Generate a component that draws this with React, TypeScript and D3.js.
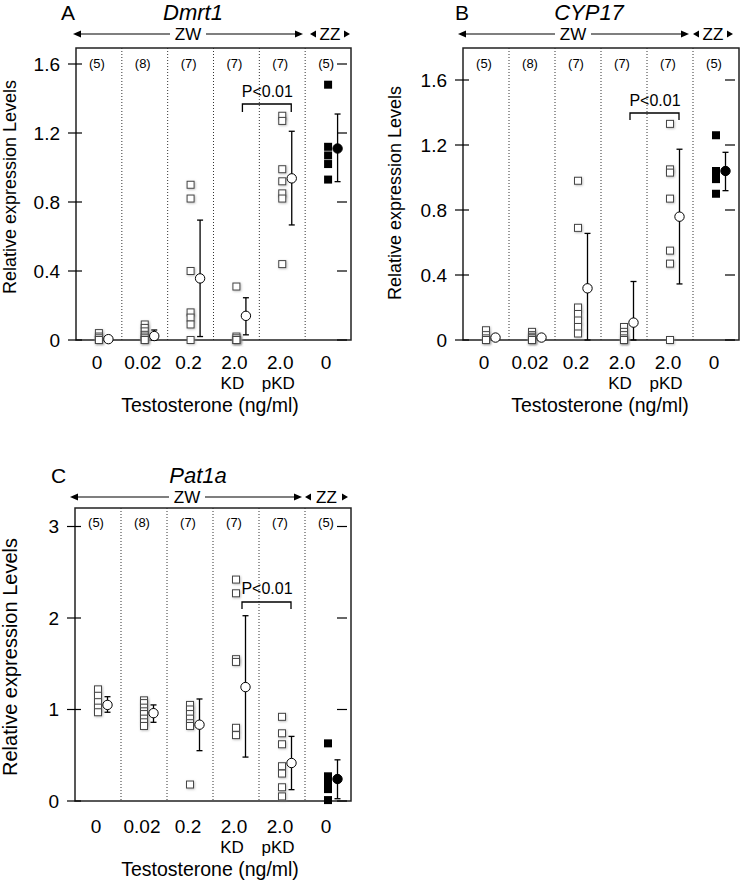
import React from "react";
import { scaleLinear, scaleBand } from "d3";

const categories = ["0", "0.02", "0.2", "2.0", "2.0", "0"];
const subLabels = ["", "", "", "KD", "pKD", ""];
const counts = ["(5)", "(8)", "(7)", "(7)", "(7)", "(5)"];

const dmrt1Points = [
  [0.04, 0.02, 0.01, 0, 0],
  [0.09, 0.07, 0.05, 0.03, 0.02, 0.01, 0, 0],
  [0.9, 0.82, 0.4, 0.16, 0.13, 0.09, 0.0],
  [0.31, 0.02, 0.01, 0, 0, 0, 0],
  [1.3, 1.27, 0.99, 0.92, 0.85, 0.82, 0.44],
  [1.48, 1.12, 1.07, 1.02, 0.93],
];
const dmrt1Mean = [0.005, 0.023, 0.357, 0.14, 0.937, 1.11];
const dmrt1Upper = [0.015, 0.058, 0.695, 0.245, 1.21, 1.31];
const dmrt1Lower = [0, 0, 0.02, 0.03, 0.667, 0.918];

const cyp17Points = [
  [0.06, 0.03, 0.01, 0, 0],
  [0.05, 0.03, 0.02, 0.01, 0.01, 0, 0, 0],
  [0.98, 0.69, 0.2, 0.16, 0.12, 0.08, 0.04],
  [0.08, 0.05, 0.03, 0.01, 0, 0, 0],
  [1.33, 1.05, 1.03, 0.87, 0.55, 0.47, 0],
  [1.26, 1.04, 1.02, 0.99, 0.9],
];
const cyp17Mean = [0.015, 0.015, 0.318, 0.107, 0.759, 1.04];
const cyp17Upper = [0.03, 0.03, 0.656, 0.36, 1.174, 1.155];
const cyp17Lower = [0, 0, 0, 0, 0.345, 0.919];

const pat1aPoints = [
  [1.22, 1.15, 1.08, 1.02, 0.97],
  [1.1, 1.07, 1.02, 0.98, 0.95, 0.9, 0.86, 0.82],
  [1.05, 1.0, 0.95, 0.9, 0.85, 0.82, 0.18],
  [2.42, 2.27, 1.55, 1.52, 0.8, 0.72],
  [0.92, 0.74, 0.62, 0.38, 0.3, 0.15, 0.05],
  [0.63, 0.27, 0.2, 0.13, 0.01],
];
const pat1aMean = [1.05, 0.96, 0.834, 1.245, 0.415, 0.24];
const pat1aUpper = [1.14, 1.05, 1.115, 2.025, 0.706, 0.45];
const pat1aLower = [0.97, 0.86, 0.55, 0.48, 0.124, 0.025];

const ticks16 = [0, 0.4, 0.8, 1.2, 1.6];
const ticks3 = [0, 1, 2, 3];

const FONT = "'Liberation Sans', Arial, Helvetica, sans-serif";

const Panel = ({ p }) => {
  const x = scaleBand()
    .domain(categories.map((_, i) => String(i)))
    .range([p.left, p.right]);
  const y = scaleLinear().domain(p.domain).range([p.bottom, p.topTick]);
  const cx = (i) => x(String(i)) + x.bandwidth() / 2;
  const sq = 7;
  const arrowL = p.arrow[0];
  const arrowR = p.arrow[1];
  const ay = p.arrowY;
  const zwHalf = 18;
  return (
    <g fontFamily={FONT}>
      {/* header */}
      <text x={p.letterX} y={p.titleY} fontSize={21}>{p.letter}</text>
      <text x={p.titleX} y={p.titleY} fontSize={22} fontStyle="italic" textAnchor="middle">{p.title}</text>
      <line x1={arrowL + 6} x2={p.zwX - zwHalf} y1={ay} y2={ay} stroke="#000" strokeWidth={1.2} />
      <line x1={p.zwX + zwHalf} x2={arrowR - 6} y1={ay} y2={ay} stroke="#000" strokeWidth={1.2} />
      <path d={`M${arrowL},${ay} l8,-3.5 l0,7 z`} fill="#000" />
      <path d={`M${arrowR},${ay} l-8,-3.5 l0,7 z`} fill="#000" />
      <text x={p.zwX} y={ay + 6} fontSize={17} textAnchor="middle">ZW</text>
      <path d={`M${p.zz[0]},${ay} l6,-3.5 l0,7 z`} fill="#000" />
      <path d={`M${p.zz[1]},${ay} l-6,-3.5 l0,7 z`} fill="#000" />
      <text x={(p.zz[0] + p.zz[1]) / 2} y={ay + 6} fontSize={17} textAnchor="middle">ZZ</text>

      {/* dividers */}
      {categories.slice(1).map((_, i) => (
        <line key={i} x1={x(String(i + 1))} x2={x(String(i + 1))} y1={p.top} y2={p.bottom}
          stroke="#333" strokeWidth={1} strokeDasharray="1,2" />
      ))}
      <rect x={p.left} y={p.top} width={p.right - p.left} height={p.bottom - p.top}
        fill="none" stroke="#222" strokeWidth={1.5} />

      {/* y ticks */}
      {p.ticks.map((t) => (
        <g key={t}>
          <line x1={p.left - 8} x2={p.left + 6} y1={y(t)} y2={y(t)} stroke="#000" strokeWidth={1.2} />
          <line x1={p.right - 14} x2={p.right - 4} y1={y(t)} y2={y(t)} stroke="#000" strokeWidth={1.2} />
          <text x={p.left - 16} y={y(t)} dy="0.35em" fontSize={19} textAnchor="end">{String(t)}</text>
        </g>
      ))}
      <text transform={`translate(${p.yTitle[0]},${p.yTitle[1]}) rotate(-90)`} fontSize={p.yTitleSize}
        textAnchor="middle">Relative expression Levels</text>

      {/* counts */}
      {counts.map((c, i) => (
        <text key={i} x={cx(i) - 2} y={p.countY} dy="0.35em" fontSize={13} textAnchor="middle">{c}</text>
      ))}

      {/* points */}
      {p.points.map((vals, i) =>
        vals.map((v, k) =>
          i === 5 ? (
            <rect key={`${i}-${k}`} x={cx(i) - 4} y={y(v) - 4} width={8} height={8} fill="#000" />
          ) : (
            <rect key={`${i}-${k}`} x={cx(i) - sq / 2} y={y(v) - sq / 2} width={sq} height={sq}
              fill="#fff" stroke="#444" strokeWidth={1} filter="url(#sqShadow)" />
          )
        )
      )}

      {/* means and error bars */}
      {p.mean.map((m, i) => {
        const mx = cx(i) + 9.5;
        return (
          <g key={i}>
            <line x1={mx} x2={mx} y1={y(p.upper[i])} y2={y(p.lower[i])} stroke="#000" strokeWidth={1.3} />
            <line x1={mx - 3} x2={mx + 3} y1={y(p.upper[i])} y2={y(p.upper[i])} stroke="#000" strokeWidth={1.3} />
            <line x1={mx - 3} x2={mx + 3} y1={y(p.lower[i])} y2={y(p.lower[i])} stroke="#000" strokeWidth={1.3} />
            <circle cx={mx} cy={y(m)} r={4.7} fill={i === 5 ? "#000" : "#fff"} stroke="#000" strokeWidth={1} />
          </g>
        );
      })}

      {/* significance bracket */}
      <path d={`M${cx(3) + 6},${p.bracket[1]} V${p.bracket[0]} H${cx(4) + 9} V${p.bracket[1]}`}
        fill="none" stroke="#000" strokeWidth={1.3} />
      <text x={(cx(3) + cx(4)) / 2 + 8} y={p.pY} fontSize={16} textAnchor="middle">P&lt;0.01</text>

      {/* x labels */}
      {categories.map((c, i) => (
        <g key={i}>
          <text x={cx(i) - 2} y={p.catY} fontSize={19} textAnchor="middle">{c}</text>
          {subLabels[i] && (
            <text x={cx(i) - 4} y={p.catY + 20} fontSize={17} textAnchor="middle">{subLabels[i]}</text>
          )}
        </g>
      ))}
      <text x={p.xTitleX} y={p.catY + 43} fontSize={19.5} textAnchor="middle">Testosterone (ng/ml)</text>
    </g>
  );
};

const panels = [
  {
    letter: "A", title: "Dmrt1", letterX: 61, titleX: 193, titleY: 20,
    arrow: [73, 303], arrowY: 34, zwX: 188, zz: [310, 350],
    left: 76, right: 351, top: 48, bottom: 340, topTick: 64, domain: [0, 1.6], ticks: ticks16,
    yTitle: [16, 187], yTitleSize: 18, countY: 63,
    points: dmrt1Points, mean: dmrt1Mean, upper: dmrt1Upper, lower: dmrt1Lower,
    bracket: [104, 112], pY: 97, catY: 369, xTitleX: 210,
  },
  {
    letter: "B", title: "CYP17", letterX: 455, titleX: 589, titleY: 20,
    arrow: [458, 689], arrowY: 34, zwX: 573, zz: [693, 733],
    left: 463, right: 739, top: 48, bottom: 340, topTick: 80, domain: [0, 1.6], ticks: ticks16,
    yTitle: [401, 193], yTitleSize: 18, countY: 63,
    points: cyp17Points, mean: cyp17Mean, upper: cyp17Upper, lower: cyp17Lower,
    bracket: [113, 120], pY: 106, catY: 369, xTitleX: 600,
  },
  {
    letter: "C", title: "Pat1a", letterX: 51, titleX: 198, titleY: 483,
    arrow: [70, 302], arrowY: 497, zwX: 187, zz: [305, 348],
    left: 75, right: 351, top: 508, bottom: 801, topTick: 526.5, domain: [0, 3], ticks: ticks3,
    yTitle: [17, 657], yTitleSize: 20, countY: 522,
    points: pat1aPoints, mean: pat1aMean, upper: pat1aUpper, lower: pat1aLower,
    bracket: [602, 609], pY: 594, catY: 833, xTitleX: 210,
  },
];

export default function App() {
  return (
    <svg width={742} height={880} style={{ position: "absolute", left: 0, top: 0, background: "#fff" }}>
      <defs>
        <filter id="sqShadow" x="-50%" y="-50%" width="200%" height="200%">
          <feDropShadow dx="0.8" dy="0.8" stdDeviation="0.8" floodColor="#888" floodOpacity="0.6" />
        </filter>
      </defs>
      <rect width={742} height={880} fill="#fff" />
      {panels.map((p) => (
        <Panel key={p.letter} p={p} />
      ))}
    </svg>
  );
}
